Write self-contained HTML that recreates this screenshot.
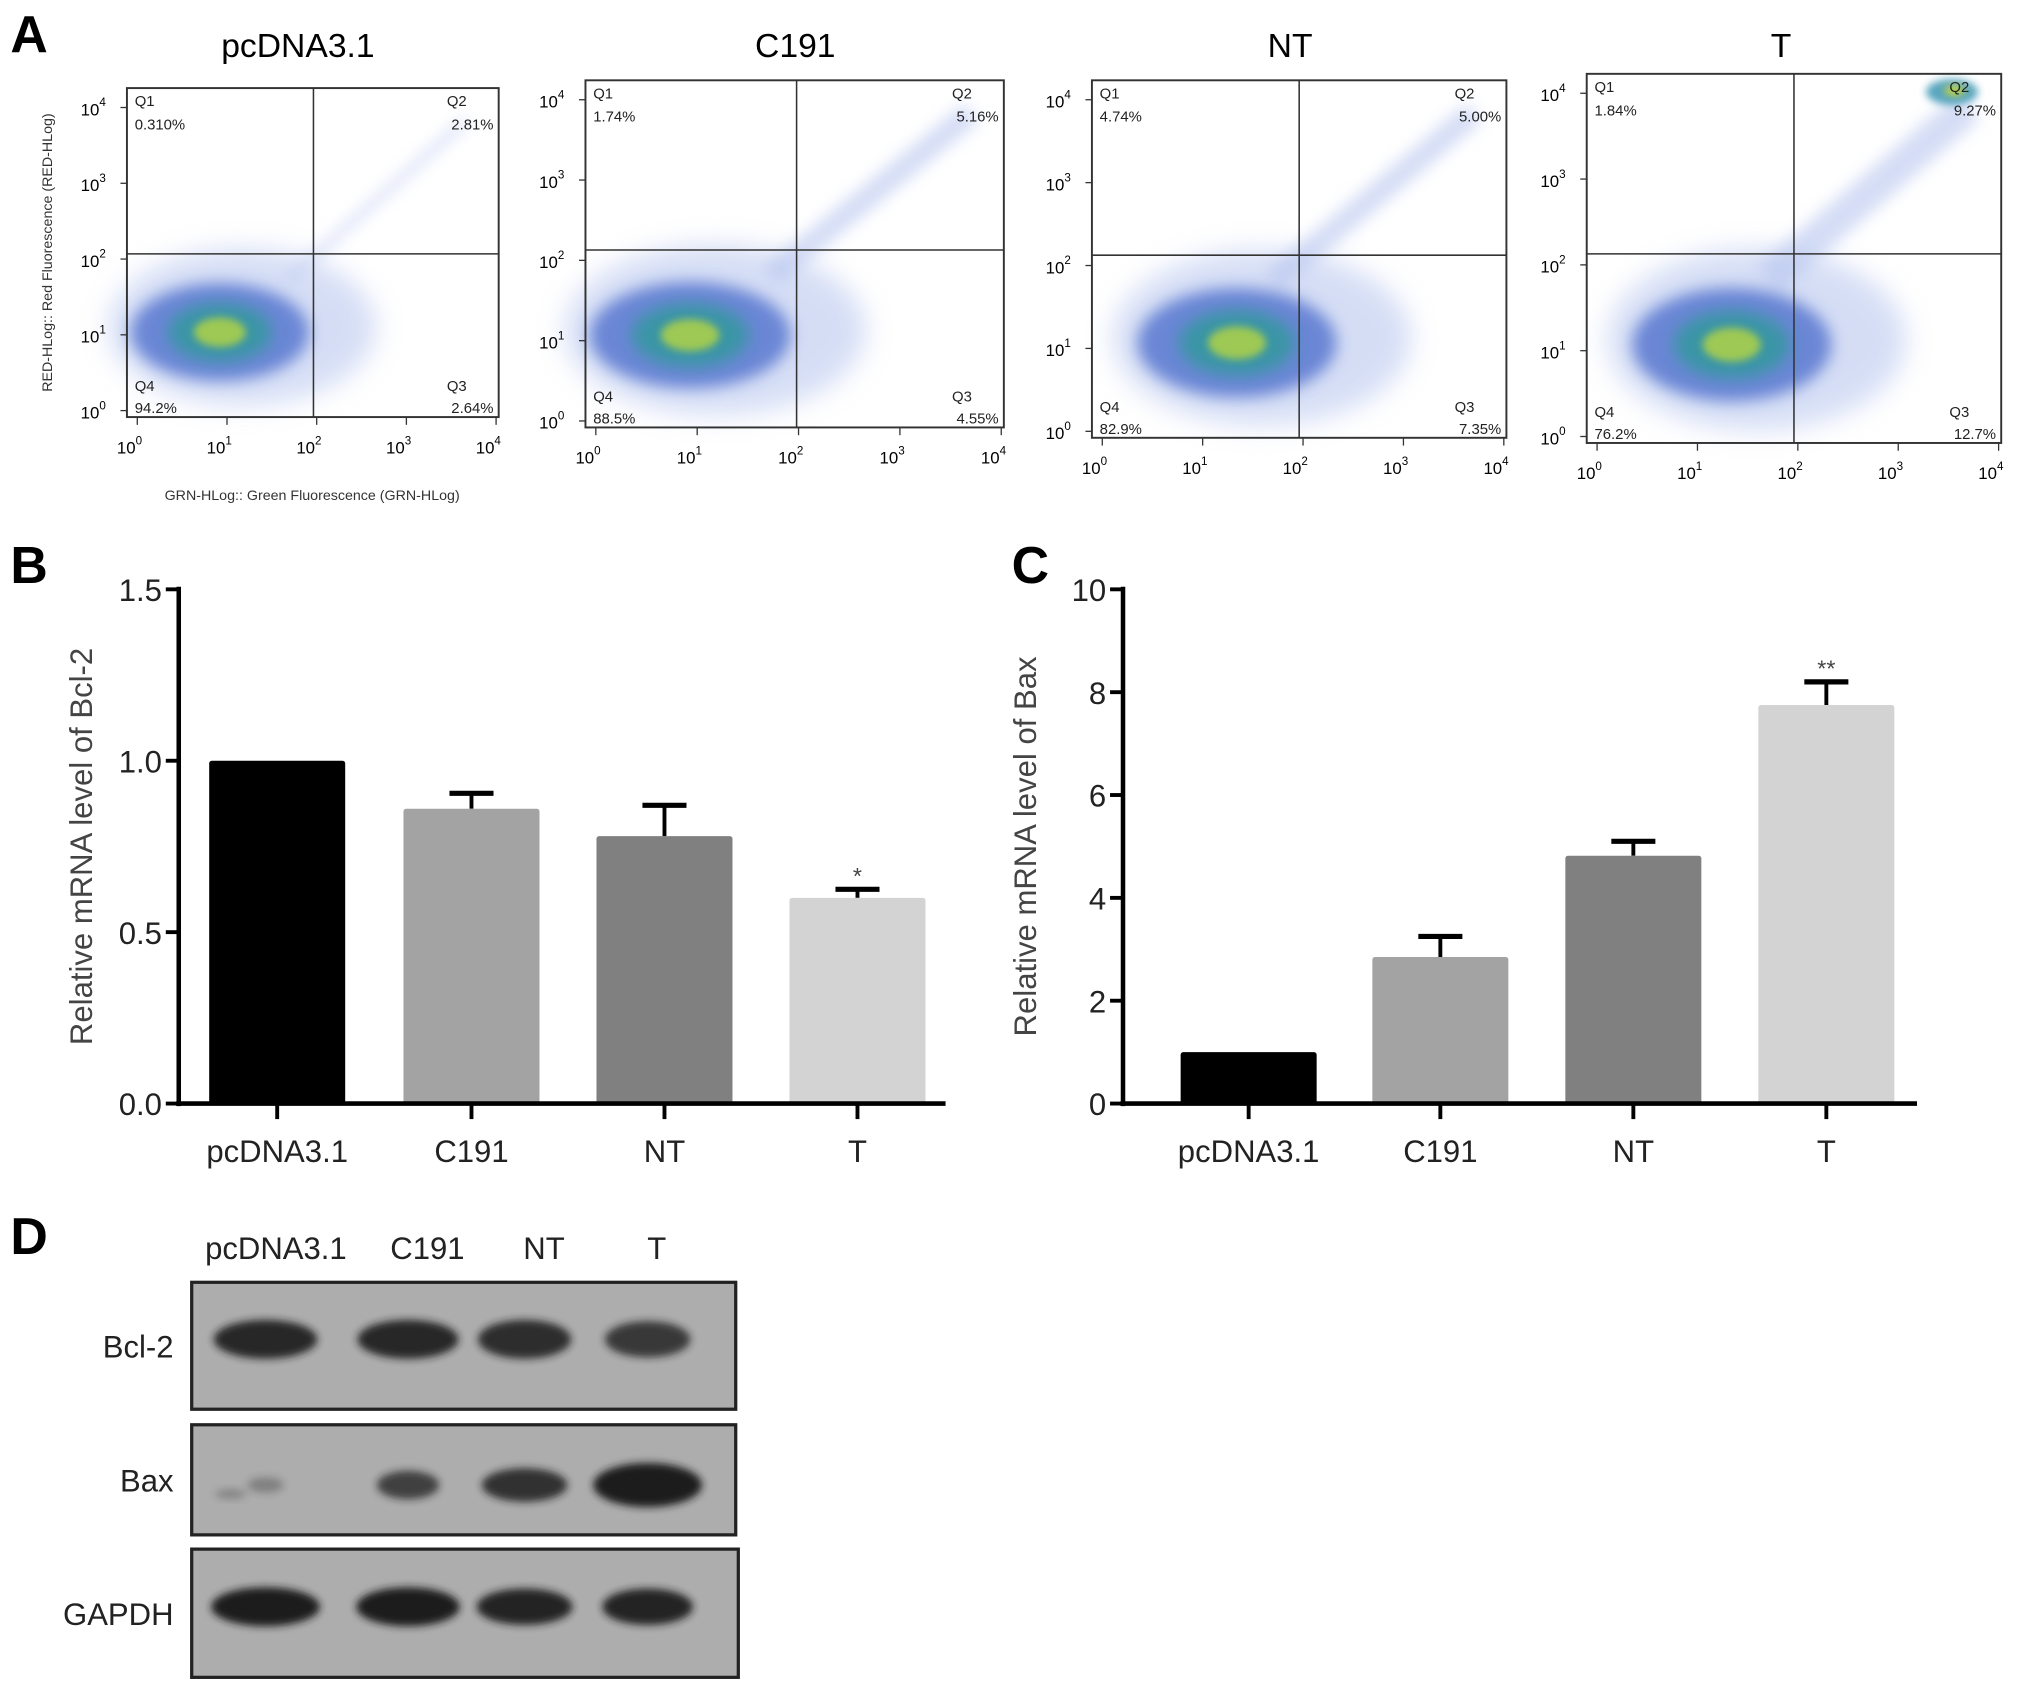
<!DOCTYPE html>
<html><head><meta charset="utf-8"><style>
html,body{margin:0;padding:0;background:#fff;}
svg{display:block;font-family:"Liberation Sans",Arial,sans-serif;}
</style></head><body>
<svg id="fig" width="2031" height="1696" viewBox="0 0 1568 1309.4" preserveAspectRatio="none" xmlns="http://www.w3.org/2000/svg">
<defs>
<filter id="blur6" x="-50%" y="-50%" width="200%" height="200%"><feGaussianBlur stdDeviation="6"/></filter>
<filter id="blur3" x="-50%" y="-50%" width="200%" height="200%"><feGaussianBlur stdDeviation="3"/></filter>
<filter id="blur10" x="-50%" y="-50%" width="200%" height="200%"><feGaussianBlur stdDeviation="10"/></filter>
</defs>
<g id="flow"></g>
<g id="bars"></g>
<g id="blot"></g>
</svg>
<script>
const NS="http://www.w3.org/2000/svg";
function mk(parent,tag,attrs,text){const e=document.createElementNS(NS,tag);for(const k in attrs)e.setAttribute(k,attrs[k]);if(text!==undefined)e.textContent=text;parent.appendChild(e);return e;}

const fig=document.getElementById('fig');
const panelLetters=['A','B','C','D'];
const letterPos=[[8,40],[8,450],[781,450],[8,968]];
panelLetters.forEach((L,i)=>{
  const t=mk(fig,'text',{x:letterPos[i][0],y:letterPos[i][1],'font-size':40,'font-weight':'bold',fill:'#000'},L);
  
  
});

// ---------- flow cytometry (panel A) ----------
const flowTitles=['pcDNA3.1','C191','NT','T'];
const q1Pct=['0.310%','1.74%','4.74%','1.84%'];
const q2Pct=['2.81%','5.16%','5.00%','9.27%'];
const q3Pct=['2.64%','4.55%','7.35%','12.7%'];
const q4Pct=['94.2%','88.5%','82.9%','76.2%'];
const flowBoxes=[[98,68,385,322],[452,62,775,330],[843,62,1163,338],[1225,57,1545,342]];
const flowTitleX=[230,614,996,1375];
const quadX=[242,615,1003,1385];
const quadY=[196,193,197,196];
const flow=document.getElementById('flow');
flowTitles.forEach((title,i)=>{
  const g=mk(flow,'g',{});
  
  
  const [x0,y0,x1,y1]=flowBoxes[i];const w=x1-x0,h=y1-y0;const qx=quadX[i],qy=quadY[i];
  const tt=mk(g,'text',{x:flowTitleX[i],y:44,'font-size':26,'text-anchor':'middle'},title);
  
  
  const cl=mk(g,'g',{});
  
  
  const cx=x0+w*(i<2?0.25:0.35), cy=qy+(y1-qy)*0.48;
  mk(cl,'line',{x1:qx-20,y1:qy+20,x2:x1-25,y2:y0+25,stroke:'#c3cff2','stroke-width':i===0?6:(i===3?26:18),opacity:0.7,filter:'url(#blur6)'});
  mk(cl,'ellipse',{cx:cx+w*0.06,cy:cy-4,rx:w*0.36,ry:(y1-qy)*0.48,fill:'#b4c3ee',opacity:0.55,filter:'url(#blur10)'});
  mk(cl,'ellipse',{cx:cx,cy:cy,rx:w*0.24,ry:(y1-qy)*0.3,fill:'#3d62c8',opacity:0.7,filter:'url(#blur6)'});
  mk(cl,'ellipse',{cx:cx,cy:cy,rx:w*0.14,ry:(y1-qy)*0.18,fill:'#2f9a9a',opacity:0.8,filter:'url(#blur6)'});
  mk(cl,'ellipse',{cx:cx,cy:cy,rx:w*0.07,ry:(y1-qy)*0.09,fill:'#b8d640',opacity:0.8,filter:'url(#blur3)'});
  if(i===3){mk(cl,'ellipse',{cx:x1-38,cy:y0+14,rx:20,ry:10,fill:'#2f8fb0',opacity:0.8,filter:'url(#blur3)'});mk(cl,'ellipse',{cx:x1-36,cy:y0+13,rx:8,ry:4,fill:'#c8d840',filter:'url(#blur3)'});}
  mk(g,'rect',{x:x0,y:y0,width:w,height:h,fill:'none',stroke:'#333','stroke-width':1.5});
  mk(g,'line',{x1:qx,y1:y0,x2:qx,y2:y1,stroke:'#333','stroke-width':1.2});
  mk(g,'line',{x1:x0,y1:qy,x2:x1,y2:qy,stroke:'#333','stroke-width':1.2});
  const fs=11.5;
  [['Q1',x0+6,y0+14,'start'],[q1Pct[i],x0+6,y0+32,'start'],['Q2',x1-40,y0+14,'start'],[q2Pct[i],x1-4,y0+32,'end'],
   ['Q4',x0+6,y1-20,'start'],[q4Pct[i],x0+6,y1-3,'start'],['Q3',x1-40,y1-20,'start'],[q3Pct[i],x1-4,y1-3,'end']].forEach(a=>{
    const t=mk(g,'text',{x:a[1],y:a[2],'font-size':fs,'text-anchor':a[3],fill:'#222'},a[0]);
    
    
  });
  for(let d=0;d<=4;d++){
    const tx=x0+8+(w-10)*d/4;
    mk(g,'line',{x1:tx,y1:y1,x2:tx,y2:y1+6,stroke:'#333','stroke-width':1});
    const t=mk(g,'text',{x:tx-6,y:y1+28,'font-size':13,'text-anchor':'middle'});
    
    
    mk(t,'tspan',{},'10');mk(t,'tspan',{dy:-7,'font-size':9},String(d));
    const ty=y1-5-(h-20)*d/4;
    mk(g,'line',{x1:x0-5,y1:ty,x2:x0,y2:ty,stroke:'#333','stroke-width':1});
    const t2=mk(g,'text',{x:x0-26,y:ty+6,'font-size':13,'text-anchor':'middle'});
    
    
    mk(t2,'tspan',{},'10');mk(t2,'tspan',{dy:-7,'font-size':9},String(d));
  }
});
const fx=mk(flow,'text',{x:241,y:386,'font-size':11,'text-anchor':'middle',fill:'#333'},'GRN-HLog:: Green Fluorescence (GRN-HLog)');


const fy=mk(flow,'text',{x:0,y:0,'font-size':11,'text-anchor':'middle',fill:'#333',transform:'translate(40,195) rotate(-90)'},'RED-HLog:: Red Fluorescence (RED-HLog)');



// ---------- bar charts (B, C) ----------
const categories=['pcDNA3.1','C191','NT','T'];
const barColors=['#000000','#a3a3a3','#808080','#d3d3d3'];
const bcl2Values=[1.0,0.86,0.78,0.60];
const bcl2ErrTop=[1.0,0.905,0.87,0.625];
const bcl2Ticks=[0,0.5,1.0,1.5];
const bcl2Stars=['','','','*'];
const baxValues=[1.0,2.85,4.82,7.75];
const baxErrTop=[1.0,3.25,5.1,8.2];
const baxTicks=[0,2,4,6,8,10];
const baxStars=['','','','**'];

const bars=document.getElementById('bars');
function barChart(name,ax,axEnd,yTop,yBot,ymax,vals,errs,ticks,stars,decimals,title,barX){
  const g=mk(bars,'g',{});
  
  
  const yS=v=>yBot-(yBot-yTop)*v/ymax;
  const bw=105;
  vals.forEach((v,i)=>{
    const cx=barX[i];
    if(errs[i]>v){
      const e=mk(g,'g',{});
      
      
      mk(e,'line',{x1:cx,y1:yS(v),x2:cx,y2:yS(errs[i]),stroke:'#000','stroke-width':3});
      mk(e,'line',{x1:cx-17,y1:yS(errs[i]),x2:cx+17,y2:yS(errs[i]),stroke:'#000','stroke-width':4});
    }
    const r=mk(g,'rect',{x:cx-bw/2,y:yS(v),width:bw,height:yBot-yS(v),fill:barColors[i],rx:2});
    
    
    if(stars[i]){const s=mk(g,'text',{x:cx,y:yS(errs[i])-4,'font-size':18,'text-anchor':'middle',fill:'#444'},stars[i]);
      
      }
    mk(g,'line',{x1:cx,y1:yBot,x2:cx,y2:yBot+12,stroke:'#000','stroke-width':3});
    const t=mk(g,'text',{x:cx,y:yBot+45,'font-size':24,'text-anchor':'middle',fill:'#222'},categories[i]);
    
    
  });
  mk(g,'line',{x1:ax,y1:yTop-2,x2:ax,y2:yBot+2,stroke:'#000','stroke-width':3.5});
  mk(g,'line',{x1:ax-2,y1:yBot,x2:axEnd,y2:yBot,stroke:'#000','stroke-width':3.5});
  ticks.forEach(tv=>{
    const y=yS(tv);
    mk(g,'line',{x1:ax-10,y1:y,x2:ax,y2:y,stroke:'#000','stroke-width':3});
    const t=mk(g,'text',{x:ax-13,y:y+9,'font-size':24,'text-anchor':'end',fill:'#222'},tv.toFixed(decimals));
    
    
  });
  const yt=mk(g,'text',{x:0,y:0,'font-size':24,'text-anchor':'middle',fill:'#444',transform:'translate('+(ax-67)+','+((yTop+yBot)/2)+') rotate(-90)'},title);
  
  
}
barChart('bcl2-bar-chart',138,730,455,852,1.5,bcl2Values,bcl2ErrTop,bcl2Ticks,bcl2Stars,1,'Relative mRNA level of Bcl-2',[214,364,513,662]);
barChart('bax-bar-chart',867,1480,455,852,10,baxValues,baxErrTop,baxTicks,baxStars,0,'Relative mRNA level of Bax',[964,1112,1261,1410]);

// ---------- western blot (D) ----------
const blot=document.getElementById('blot');
const laneNames=['pcDNA3.1','C191','NT','T'];
const laneHeaderX=[213,330,420,507];
const laneX=[205,315,405,500];
const proteins=['Bcl-2','Bax','GAPDH'];
const blotRows=[[148,990,568,1088],[148,1100,568,1185],[148,1196,570,1295]];
const bandWidth=[[80,78,72,66],[28,48,66,84],[84,80,74,70]];
const bandHeight=[[15,15,15,14],[6,11,13,17],[15,15,14,14]];
const bandDark=[[0.92,0.92,0.88,0.8],[0.3,0.75,0.85,1],[1,1,0.95,0.95]];
laneNames.forEach((n,i)=>{
  const t=mk(blot,'text',{x:laneHeaderX[i],y:972,'font-size':24,'text-anchor':'middle',fill:'#222'},n);
  
  
});
proteins.forEach((p,r)=>{
  const [x0,y0,x1,y1]=blotRows[r];
  const g=mk(blot,'g',{});
  
  
  mk(g,'rect',{x:x0,y:y0,width:x1-x0,height:y1-y0,fill:'#adadad',stroke:'#222','stroke-width':2.5});
  const cy=(y0+y1)/2+(r===1?4:-5);
  laneX.forEach((lx,i)=>{
    mk(g,'ellipse',{cx:lx,cy:cy,rx:bandWidth[r][i]/2,ry:bandHeight[r][i],fill:'#1a1a1a',opacity:bandDark[r][i],filter:'url(#blur3)'});
  });
  if(r===1){mk(g,'ellipse',{cx:178,cy:cy+7,rx:12,ry:4,fill:'#333',opacity:0.3,filter:'url(#blur3)'});}
  const t=mk(blot,'text',{x:134,y:(y0+y1)/2+9,'font-size':24,'text-anchor':'end',fill:'#222'},p);
  
  
});
</script>
</body></html>
